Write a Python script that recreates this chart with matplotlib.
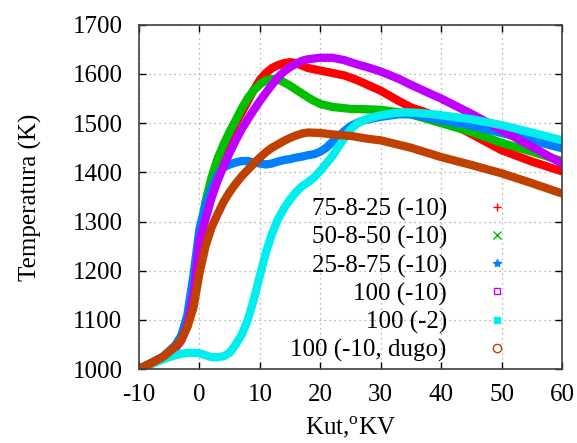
import numpy as np
import matplotlib
matplotlib.use('Agg')
import matplotlib.pyplot as plt
from matplotlib.lines import Line2D

plt.rcParams['font.family'] = ['Liberation Serif', 'DejaVu Serif']
plt.rcParams['mathtext.fontset'] = 'custom'
plt.rcParams['mathtext.rm'] = 'Liberation Serif'
plt.rcParams['font.size'] = 18
plt.rcParams['axes.unicode_minus'] = False

# crank angle (deg) vs temperature (K)
x_red = [-10, -8, -6, -4, -3, -2, -1, 0, 1, 2, 3, 4, 5, 6, 7, 8, 9, 10, 11, 12, 13, 14, 15, 16, 17, 18,
         20, 22, 24, 26, 28, 30, 33, 35, 37, 40, 45, 50, 55, 60]
t_red = [1000, 1012, 1025, 1047, 1065, 1100, 1160, 1250, 1325, 1380, 1420, 1450, 1475, 1500, 1522, 1545,
         1568, 1588, 1602, 1612, 1618, 1622, 1624, 1622, 1617, 1612, 1607, 1602, 1597, 1588, 1577, 1566,
         1545, 1532, 1524, 1510, 1478, 1445, 1422, 1402]

x_grn = [-10, -8, -6, -4, -3, -2, -1, 0, 1, 2, 3, 4, 5, 6, 7, 8, 9, 10, 11, 12, 13, 14, 15, 16, 17, 18,
         19, 20, 22, 25, 28, 30, 33, 35, 40, 45, 50, 55, 60]
t_grn = [1000, 1012, 1025, 1047, 1065, 1100, 1165, 1265, 1340, 1390, 1428, 1457, 1483, 1506, 1530, 1551,
         1567, 1579, 1587, 1590, 1589, 1583, 1576, 1568, 1560, 1552, 1545, 1539, 1533, 1529, 1528, 1527,
         1522, 1518, 1500, 1482, 1460, 1442, 1423]

x_blu = [-10, -8, -6, -4, -3, -2, -1, 0, 1, 2, 3, 4, 5, 6, 7, 8, 9, 10, 11, 12, 13, 14, 15, 16, 17, 18,
         19, 20, 21, 22, 23, 24, 25, 26, 27, 28, 30, 33, 35, 40, 45, 50, 55, 60]
t_blu = [1000, 1012, 1025, 1048, 1068, 1110, 1190, 1285, 1335, 1368, 1395, 1410, 1416, 1420, 1423, 1423,
         1420, 1418, 1416, 1418, 1422, 1425, 1427, 1430, 1432, 1435, 1437, 1442, 1450, 1462, 1473, 1484,
         1494, 1500, 1505, 1508, 1513, 1518, 1518, 1506, 1495, 1480, 1465, 1449]

x_pur = [-10, -8, -6, -4, -3, -2, -1, 0, 1, 2, 3, 4, 5, 6, 7, 8, 9, 10, 11, 12, 13, 14, 15, 16, 17, 18,
         20, 22, 24, 26, 28, 30, 33, 35, 38, 40, 45, 50, 55, 60]
t_pur = [1000, 1010, 1022, 1042, 1058, 1090, 1150, 1260, 1305, 1348, 1383, 1413, 1440, 1465, 1488, 1508,
         1527, 1545, 1562, 1578, 1593, 1605, 1614, 1621, 1627, 1630, 1633, 1633, 1628, 1620, 1613, 1605,
         1590, 1578, 1561, 1550, 1519, 1486, 1452, 1418]

x_cya = [-10, -8, -6, -4, -3, -2, -1, 0, 1, 2, 3, 4, 5, 6, 7, 8, 9, 10, 11, 12, 13, 14, 15, 16, 17, 18,
         19, 20, 21, 22, 23, 24, 25, 26, 27, 28, 30, 32, 34, 36, 38, 40, 45, 50, 55, 60]
t_cya = [1000, 1010, 1020, 1028, 1031, 1033, 1033, 1032, 1028, 1024, 1024, 1026, 1033, 1050, 1070, 1100,
         1142, 1190, 1237, 1275, 1305, 1327, 1345, 1360, 1372, 1380, 1390, 1403, 1418, 1433, 1452, 1470,
         1487, 1498, 1505, 1510, 1516, 1520, 1522, 1521, 1519, 1516, 1508, 1496, 1481, 1465]

x_brn = [-10, -8, -6, -4, -3, -2, -1, 0, 1, 2, 3, 4, 5, 6, 7, 8, 9, 10, 11, 12, 13, 14, 15, 16, 17, 18,
         20, 22, 25, 28, 30, 35, 40, 45, 50, 55, 60]
t_brn = [1000, 1012, 1025, 1045, 1060, 1085, 1125, 1195, 1250, 1288, 1315, 1340, 1360, 1377, 1392, 1405,
         1418, 1430, 1441, 1450, 1457, 1464, 1470, 1475, 1479, 1481, 1480, 1477, 1474, 1468, 1465, 1450,
         1431, 1415, 1398, 1378, 1357]

labels = ['75-8-25 (-10)', '50-8-50 (-10)', '25-8-75 (-10)', '100 (-10)', '100 (-2)', '100 (-10, dugo)']
colors = ['#ff0000', '#00c000', '#0080ff', '#c000ff', '#00eeee', '#c04000']
markers = ['+', 'x', '*', 's', 's', 'o']
filled = [True, True, True, False, True, False]

series = [(x_red, t_red), (x_grn, t_grn), (x_blu, t_blu),
          (x_pur, t_pur), (x_cya, t_cya), (x_brn, t_brn)]

fig = plt.figure(figsize=(5.77, 4.43), dpi=100)
ax = fig.add_axes([0.241, 0.167, 0.733, 0.777])

for (xs, ts), c in zip(series, colors):
    ax.plot(xs, ts, color=c, lw=6, solid_capstyle='round', solid_joinstyle='round')

handles = []
for c, m, f in zip(colors, markers, filled):
    handles.append(Line2D([], [], ls='none', marker=m, color=c, markersize=6 if m != 's' else 5,
                          markerfacecolor=c if f else 'none', markeredgewidth=1))
ax.legend(handles, labels, loc='lower right', bbox_to_anchor=(0.905, -0.03), frameon=False,
          markerfirst=False, handlelength=0.6, handletextpad=1.7, labelspacing=0.2,
          borderpad=0.2, fontsize=18)

ax.set_xlim(-10, 60)
ax.set_ylim(1000, 1700)
ax.set_xticks(np.arange(-10, 61, 10))
ax.set_yticks(np.arange(1000, 1701, 100))
ax.grid(True, color='#a0a0a0', ls=(0, (1, 3)), lw=0.9)
ax.tick_params(direction='in', length=5, width=1, top=True, right=True)
ax.tick_params(axis='x', pad=11)
ax.tick_params(axis='y', pad=12)
for s in ax.spines.values():
    s.set_linewidth(1.2)
    s.set_color('#404040')

ax.set_xlabel('Kut,$^{\\rm o}$KV', labelpad=6)
ax.set_ylabel('Temperatura (K)', labelpad=22)

fig.savefig('out.png', dpi=100)
